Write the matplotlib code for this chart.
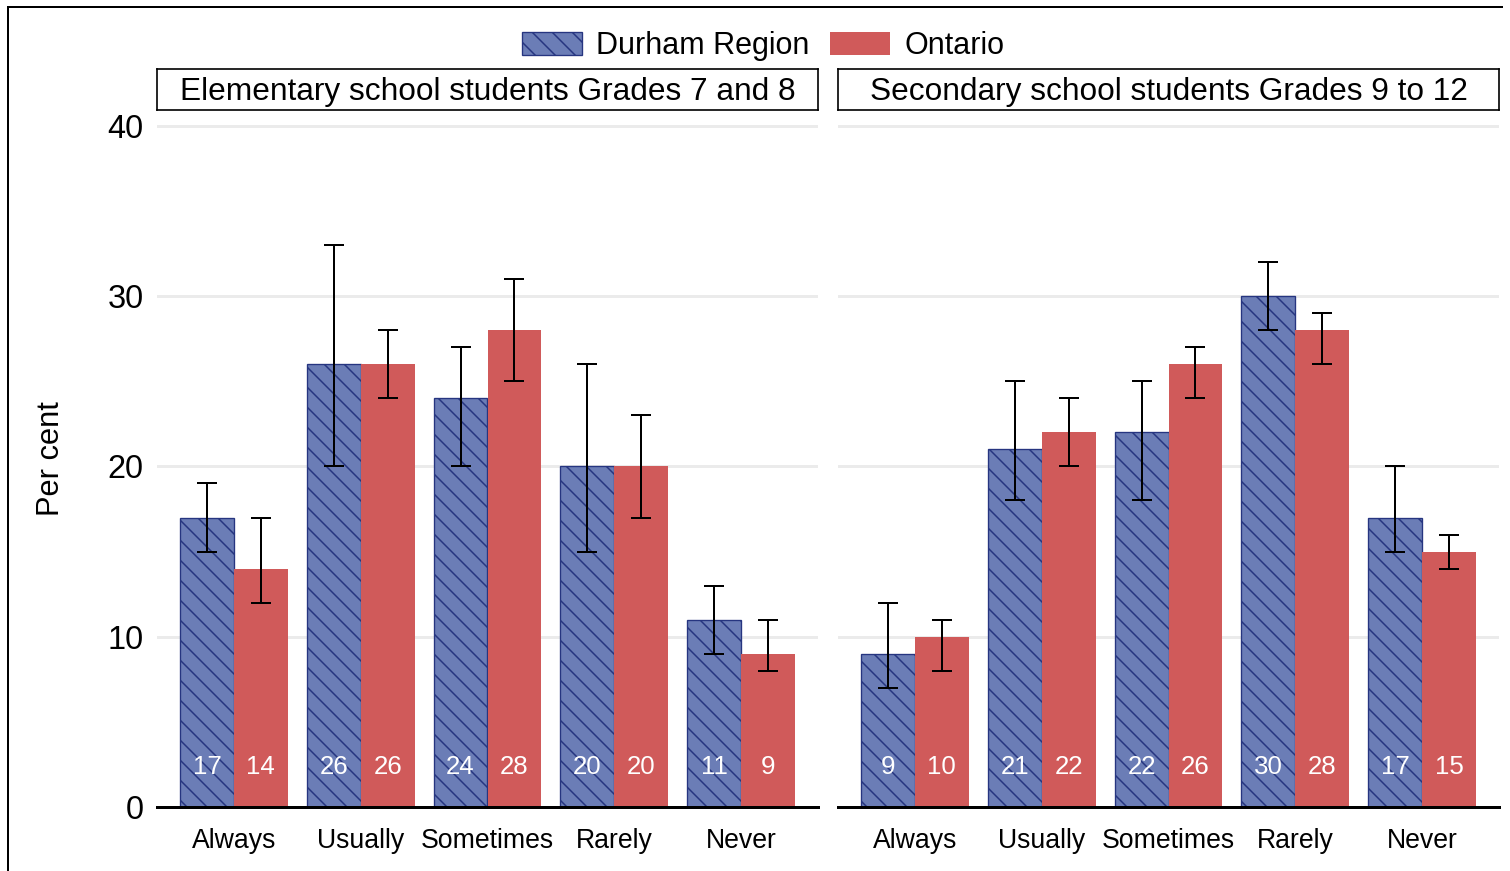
import matplotlib
matplotlib.use("Agg")
import matplotlib.pyplot as plt
from matplotlib.patches import Patch
from matplotlib.lines import Line2D
import numpy as np

plt.rcParams['font.family'] = ['Liberation Sans', 'DejaVu Sans']
plt.rcParams['hatch.linewidth'] = 0.9

# Data
categories = ["Always", "Usually", "Sometimes", "Rarely", "Never"]
panels = ["Elementary school students Grades 7 and 8",
          "Secondary school students Grades 9 to 12"]
series = ["Durham Region", "Ontario"]

elem_durham = [17, 26, 24, 20, 11]
elem_durham_lo = [15, 20, 20, 15, 9]
elem_durham_hi = [19, 33, 27, 26, 13]
elem_ontario = [14, 26, 28, 20, 9]
elem_ontario_lo = [12, 24, 25, 17, 8]
elem_ontario_hi = [17, 28, 31, 23, 11]

sec_durham = [9, 21, 22, 30, 17]
sec_durham_lo = [7, 18, 18, 28, 15]
sec_durham_hi = [12, 25, 25, 32, 20]
sec_ontario = [10, 22, 26, 28, 15]
sec_ontario_lo = [8, 20, 24, 26, 14]
sec_ontario_hi = [11, 24, 27, 29, 16]

yticks = [0, 10, 20, 30, 40]

blue = "#6B7DB6"
blue_edge = "#263580"
red = "#D05A5A"

DPI = 120
W, H = 1510, 871
fig = plt.figure(figsize=(W / DPI, H / DPI), dpi=DPI)

# outer frame lines (top and left)
fig.add_artist(Line2D([8 / W, 8 / W], [0, 1 - 7 / H], color="black", lw=1.2,
                      transform=fig.transFigure))
fig.add_artist(Line2D([8 / W, 1502 / W], [1 - 7 / H, 1 - 7 / H], color="black", lw=1.2,
                      transform=fig.transFigure))

panel_data = [
    (elem_durham, elem_durham_lo, elem_durham_hi, elem_ontario, elem_ontario_lo, elem_ontario_hi),
    (sec_durham, sec_durham_lo, sec_durham_hi, sec_ontario, sec_ontario_lo, sec_ontario_hi),
]
lefts = [157, 838]
pw = 661
ax_bottom, ax_top = 807, 110
strip_top = 69

x = np.arange(len(categories))
w = 0.425

for i, (left, title, data) in enumerate(zip(lefts, panels, panel_data)):
    d, dlo, dhi, o, olo, ohi = data
    ax = fig.add_axes([left / W, 1 - ax_bottom / H, pw / W, (ax_bottom - ax_top) / H])
    ax.set_xlim(-0.606, len(categories) - 1 + 0.606)
    ax.set_ylim(0, 40.93)
    ax.set_yticks(yticks)
    for yv in yticks[1:]:
        ax.axhline(yv, color="#EBEBEB", lw=1.8, zorder=0)
    ax.axhline(0, color="black", lw=1.8, zorder=4, clip_on=False)

    ax.bar(x - w / 2, d, width=w, color=blue, edgecolor=blue_edge, hatch="\\\\",
           linewidth=0.8, zorder=2)
    ax.bar(x + w / 2, o, width=w, color=red, edgecolor="none", linewidth=0, zorder=2)

    d_arr, o_arr = np.array(d), np.array(o)
    ax.errorbar(x - w / 2, d_arr, yerr=[d_arr - np.array(dlo), np.array(dhi) - d_arr],
                fmt="none", ecolor="black", elinewidth=1.2, capsize=6, capthick=1.2, zorder=3)
    ax.errorbar(x + w / 2, o_arr, yerr=[o_arr - np.array(olo), np.array(ohi) - o_arr],
                fmt="none", ecolor="black", elinewidth=1.2, capsize=6, capthick=1.2, zorder=3)

    for xi, v in zip(x - w / 2, d):
        ax.text(xi, 2.35, f"{v}", color="white", ha="center", va="center", fontsize=15.5, zorder=5)
    for xi, v in zip(x + w / 2, o):
        ax.text(xi, 2.35, f"{v}", color="white", ha="center", va="center", fontsize=15.5, zorder=5)

    ax.set_xticks(x)
    ax.set_xticklabels(categories, fontsize=16)
    ax.tick_params(axis="x", length=0, pad=12.5)
    ax.tick_params(axis="y", length=0, pad=8, labelsize=19.5)
    if i == 0:
        ax.set_ylabel("Per cent", fontsize=18.5)
        ax.yaxis.set_label_coords(-0.138, 0.5)
    else:
        ax.set_yticklabels([])
    for s in ax.spines.values():
        s.set_visible(False)

    # strip title box
    sax = fig.add_axes([left / W, 1 - ax_top / H, pw / W, (ax_top - strip_top) / H])
    sax.set_xticks([])
    sax.set_yticks([])
    for s in sax.spines.values():
        s.set_linewidth(1.0)
        s.set_color("black")
    sax.text(0.5, 0.45, title, ha="center", va="center", fontsize=19, transform=sax.transAxes)

handles = [Patch(facecolor=blue, edgecolor=blue_edge, hatch="\\\\", linewidth=0.8, label=series[0]),
           Patch(facecolor=red, edgecolor="none", label=series[1])]
fig.legend(handles=handles, loc="center", bbox_to_anchor=(763 / W, 1 - 46 / H), ncol=2,
           frameon=False, fontsize=18.3, handlelength=1.97, handleheight=0.82,
           handletextpad=0.46, columnspacing=0.69, borderpad=0)

fig.savefig("out.png", dpi=DPI)
